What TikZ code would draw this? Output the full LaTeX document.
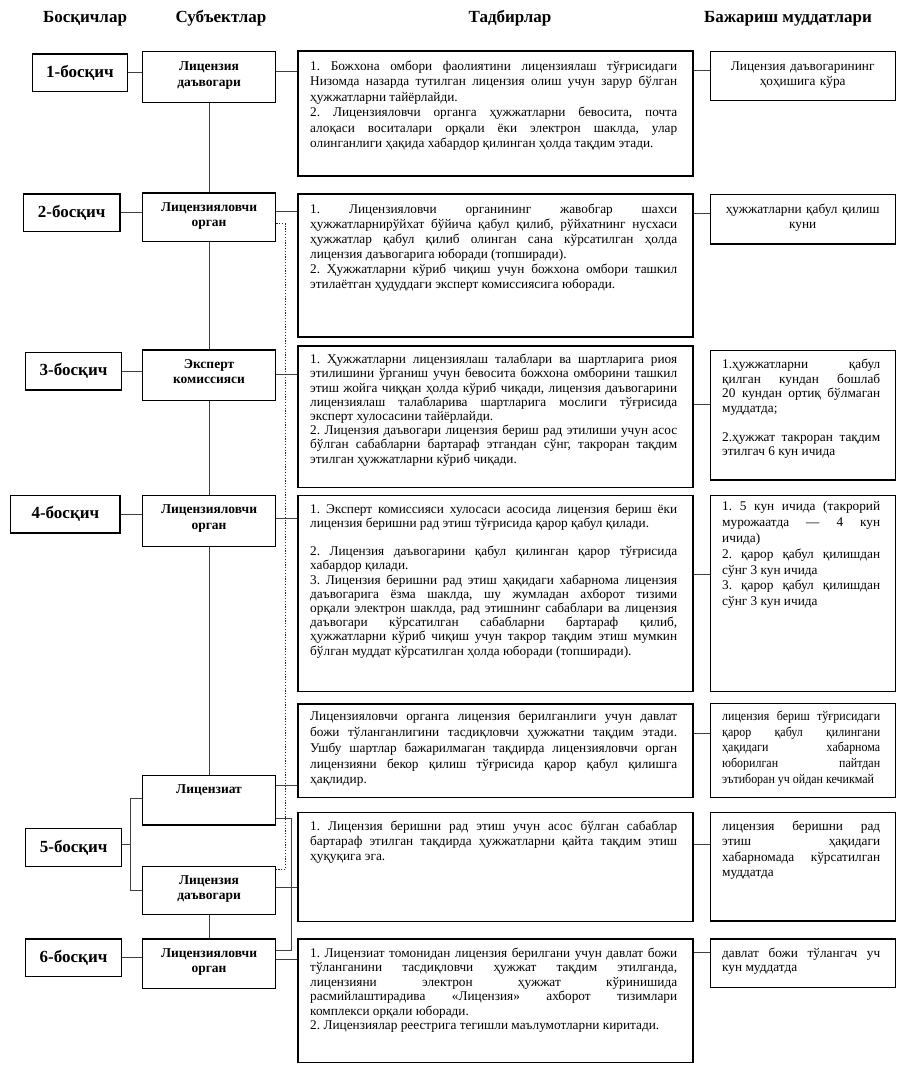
\documentclass[tikz,border=0pt]{standalone}
\usepackage{fontspec}
\setmainfont{Liberation Serif}
\newfontfamily\condfont[FakeStretch=0.9]{Liberation Serif}
\newcommand{\txtfont}[1]{\fontsize{13.3pt}{#1pt}\selectfont}
\newcommand{\condtxt}[1]{\condfont\fontsize{13.3pt}{#1pt}\selectfont}
\newcommand{\subjfont}{\fontsize{13.5pt}{15.5pt}\selectfont\bfseries}
\newcommand{\stagefont}{\fontsize{17pt}{20pt}\selectfont\bfseries}
\newcommand{\headfont}{\fontsize{17pt}{20pt}\selectfont\bfseries}
\tolerance=10000 \hbadness=10000 \hyphenpenalty=10000 \exhyphenpenalty=10000
\frenchspacing
\begin{document}
\begin{tikzpicture}[x=1pt,y=-1pt,
  stagebox/.style={draw=black,line width=1.4pt,inner sep=0pt,anchor=north west,font=\stagefont},
  subjbox/.style={draw=black,line width=1.4pt,inner sep=0pt,anchor=north west,minimum width=133.3pt},
  actbox/.style={draw=black,line width=1.6pt,inner sep=0pt,anchor=north west,minimum width=395pt},
  termbox/.style={draw=black,line width=1.4pt,inner sep=0pt,anchor=north west,minimum width=184.6pt},
  acttext/.style={inner sep=0pt,anchor=north west,text width=367pt,align=justify},
  termtext/.style={inner sep=0pt,anchor=north west,text width=158pt,align=justify},
  termctext/.style={inner sep=0pt,anchor=north west,text width=161pt,align=center},
  subjtext/.style={inner sep=0pt,anchor=north,text width=133pt,align=center,font=\subjfont},
  head/.style={inner sep=0pt,font=\headfont},
  conn/.style={draw=black!75,line width=0.8pt},
  dotconn/.style={draw=black!85,line width=0.9pt,dash pattern=on 1.2pt off 1.6pt},
]
\path[use as bounding box,fill=white] (0,0) rectangle (899,1068);

% headers
\node[head] (h1) at (85,18.3) {Босқичлар};
\node[head] (h2) at (221,18.3) {Субъектлар};
\node[head] (h3) at (510,18.3) {Тадбирлар};
\node[head] (h4) at (788,18.3) {Бажариш муддатлари};

% stage boxes
\node[stagebox,minimum width=95.5pt,minimum height=37.4pt] (s1) at (31.5,53.3) {1-босқич};
\node[stagebox,minimum width=96.6pt,minimum height=37.7pt] (s2) at (22.7,193.3) {2-босқич};
\node[stagebox,minimum width=95.7pt,minimum height=37.6pt] (s3) at (25,351.7) {3-босқич};
\node[stagebox,minimum width=109.3pt,minimum height=37.3pt] (s4) at (10,495) {4-босқич};
\node[stagebox,minimum width=96pt,minimum height=38pt] (s5) at (25,827.7) {5-босқич};
\node[stagebox,minimum width=95.7pt,minimum height=37.4pt] (s6) at (25,938.3) {6-босқич};

% subject boxes
\node[subjbox,minimum height=51pt] (u1) at (141.7,50.7) {};
\node[subjbox,minimum height=48.7pt] (u2) at (141.7,192.3) {};
\node[subjbox,minimum height=50.7pt] (u3) at (141.7,349.3) {};
\node[subjbox,minimum height=51pt] (u4) at (141.7,495) {};
\node[subjbox,minimum height=49.3pt] (u5a) at (141.7,775) {};
\node[subjbox,minimum height=48.3pt] (u5b) at (141.7,865.7) {};
\node[subjbox,minimum height=49.4pt] (u6) at (141.7,938.3) {};

\node[subjtext] (u1x) at ([yshift=-9.15pt]u1.north) {\strut Лицензия\\даъвогари};
\node[subjtext] (u2x) at ([yshift=-7.65pt]u2.north) {\strut Лицензияловчи\\орган};
\node[subjtext] (u3x) at ([yshift=-7.65pt]u3.north) {\strut Эксперт\\комиссияси};
\node[subjtext] (u4x) at ([yshift=-7.65pt]u4.north) {\strut Лицензияловчи\\орган};
\node[subjtext] (u5ax) at ([yshift=-7.65pt]u5a.north) {\strut Лицензиат};
\node[subjtext] (u5bx) at ([yshift=-7.65pt]u5b.north) {\strut Лицензия\\даъвогари};
\node[subjtext] (u6x) at ([yshift=-7.65pt]u6.north) {\strut Лицензияловчи\\орган};

% activity boxes
\node[actbox,minimum height=125pt] (t1) at (297,50) {};
\node[actbox,minimum height=143pt] (t2) at (297,193) {};
\node[actbox,minimum height=141.7pt] (t3) at (297,345) {};
\node[actbox,minimum height=196pt] (t4) at (297,494.5) {};
\node[actbox,minimum height=93.2pt] (t5a) at (297,703.3) {};
\node[actbox,minimum height=108.8pt] (t5b) at (297,811.7) {};
\node[actbox,minimum height=123.4pt] (t6) at (297,938.3) {};

\node[acttext,font=\txtfont{15.5}] (t1x) at ([xshift=13pt,yshift=-9.35pt]t1.north west) {\strut 1. Божхона омбори фаолиятини лицензиялаш тўғрисидаги\linebreak Низомда назарда тутилган лицензия олиш учун зарур бўлган\linebreak ҳужжатларни тайёрлайди.\par 2. Лицензияловчи органга ҳужжатларни бевосита, почта\linebreak алоқаси воситалари орқали ёки электрон шаклда, улар\linebreak олинганлиги ҳақида хабардор қилинган ҳолда тақдим этади.};
\node[acttext,font=\txtfont{15}] (t2x) at ([xshift=13pt,yshift=-9.3pt]t2.north west) {\strut 1. Лицензияловчи органининг жавобгар шахси\linebreak ҳужжатларнирўйхат бўйича қабул қилиб, рўйхатнинг нусхаси\linebreak ҳужжатлар қабул қилиб олинган сана кўрсатилган ҳолда\linebreak лицензия даъвогарига юборади (топширади).\par 2. Ҳужжатларни кўриб чиқиш учун божхона омбори ташкил\linebreak этилаётган ҳудуддаги эксперт комиссиясига юборади.};
\node[acttext,font=\txtfont{14.2}] (t3x) at ([xshift=13pt,yshift=-8.56pt]t3.north west) {\strut 1. Ҳужжатларни лицензиялаш талаблари ва шартларига риоя\linebreak этилишини ўрганиш учун бевосита божхона омборини ташкил\linebreak этиш жойга чиққан ҳолда кўриб чиқади, лицензия даъвогарини\linebreak лицензиялаш талабларива шартларига мослиги тўғрисида\linebreak эксперт хулосасини тайёрлайди.\par 2. Лицензия даъвогари лицензия бериш рад этилиши учун асос\linebreak бўлган сабабларни бартараф этгандан сўнг, такроран тақдим\linebreak этилган ҳужжатларни кўриб чиқади.};
\node[acttext,font=\txtfont{14.2}] (t4x) at ([xshift=13pt,yshift=-8.36pt]t4.north west) {\strut 1. Эксперт комиссияси хулосаси асосида лицензия бериш ёки\linebreak лицензия беришни рад этиш тўғрисида қарор қабул қилади.\par\vspace{14.2pt}2. Лицензия даъвогарини қабул қилинган қарор тўғрисида\linebreak хабардор қилади.\par 3. Лицензия беришни рад этиш ҳақидаги хабарнома лицензия\linebreak даъвогарига ёзма шаклда, шу жумладан ахборот тизими\linebreak орқали электрон шаклда, рад этишнинг сабаблари ва лицензия\linebreak даъвогари кўрсатилган сабабларни бартараф қилиб,\linebreak ҳужжатларни кўриб чиқиш учун такрор тақдим этиш мумкин\linebreak бўлган муддат кўрсатилган ҳолда юборади (топширади).};
\node[acttext,font=\txtfont{15.7}] (t5ax) at ([xshift=13pt,yshift=-6.5pt]t5a.north west) {\strut Лицензияловчи органга лицензия берилганлиги учун давлат\linebreak божи тўланганлигини тасдиқловчи ҳужжатни тақдим этади.\linebreak Ушбу шартлар бажарилмаган тақдирда лицензияловчи орган\linebreak лицензияни бекор қилиш тўғрисида қарор қабул қилишга\linebreak ҳақлидир.};
\node[acttext,font=\txtfont{15}] (t5bx) at ([xshift=13pt,yshift=-8pt]t5b.north west) {\strut 1. Лицензия беришни рад этиш учун асос бўлган сабаблар\linebreak бартараф этилган тақдирда ҳужжатларни қайта тақдим этиш\linebreak ҳуқуқига эга.};
\node[acttext,font=\txtfont{14.5}] (t6x) at ([xshift=13pt,yshift=-8.35pt]t6.north west) {\strut 1. Лицензиат томонидан лицензия берилгани учун давлат божи\linebreak тўланганини тасдиқловчи ҳужжат тақдим этилганда,\linebreak лицензияни электрон ҳужжат кўринишида\linebreak расмийлаштирадива «Лицензия» ахборот тизимлари\linebreak комплекси орқали юборади.\par 2. Лицензиялар реестрига тегишли маълумотларни киритади.};

% term boxes
\node[termbox,minimum height=49.3pt] (r1) at (710,50.7) {};
\node[termbox,minimum height=49.3pt] (r2) at (710,194) {};
\node[termbox,minimum height=129.3pt] (r3) at (710,350) {};
\node[termbox,minimum height=196pt] (r4) at (710,494.7) {};
\node[termbox,minimum height=93.7pt] (r5a) at (710,703) {};
\node[termbox,minimum height=108.5pt] (r5b) at (710,811.7) {};
\node[termbox,minimum height=48.4pt] (r6) at (710,938.3) {};

\node[termctext,font=\txtfont{15}] (r1x) at ([xshift=12pt,yshift=-9pt]r1.north west) {\strut Лицензия даъвогарининг\\ҳоҳишига кўра};
\node[termctext,font=\txtfont{15}] (r2x) at ([xshift=12pt,yshift=-8.3pt]r2.north west) {\strut ҳужжатларни қабул қилиш\\куни};
\node[termtext,font=\txtfont{14.5}] (r3x) at ([xshift=12pt,yshift=-8.35pt]r3.north west) {\strut 1.ҳужжатларни қабул\linebreak қилган кундан бошлаб\linebreak 20 кундан ортиқ бўлмаган\linebreak муддатда;\par\vspace{14.5pt}2.ҳужжат такроран тақдим\linebreak этилгач 6 кун ичида};
\node[termtext,font=\txtfont{15.8}] (r4x) at ([xshift=12pt,yshift=-5pt]r4.north west) {\strut 1. 5 кун ичида (такрорий\linebreak мурожаатда — 4 кун\linebreak ичида)\par 2. қарор қабул қилишдан\linebreak сўнг 3 кун ичида\par 3. қарор қабул қилишдан\linebreak сўнг 3 кун ичида};
\node[termtext,font=\condtxt{15.7}] (r5ax) at ([xshift=12pt,yshift=-6.2pt]r5a.north west) {\parfillskip=0pt\strut лицензия бериш тўғрисидаги\linebreak қарор қабул қилингани\linebreak ҳақидаги хабарнома\linebreak юборилган пайтдан\linebreak эътиборан уч ойдан кечикмай};
\node[termtext,font=\txtfont{15.3}] (r5bx) at ([xshift=12pt,yshift=-7.8pt]r5b.north west) {\strut лицензия беришни рад\linebreak этиш ҳақидаги\linebreak хабарномада кўрсатилган\linebreak муддатда};
\node[termtext,font=\txtfont{14}] (r6x) at ([xshift=12pt,yshift=-8.7pt]r6.north west) {\strut давлат божи тўлангач уч\linebreak кун муддатда};

% stage -> subject
\draw[conn] (s1.east) -- (s1.east -| u1.west);
\draw[conn] (s2.east) -- (s2.east -| u2.west);
\draw[conn] (s3.east) -- (s3.east -| u3.west);
\draw[conn] (s4.east) -- (s4.east -| u4.west);
\draw[conn] (s6.east) -- (s6.east -| u6.west);
\coordinate (br) at ([xshift=-11pt,yshift=2pt]u5a.west);
\draw[conn] ([yshift=2pt]u5a.west) -- (br) |- (u5b.west);
\draw[conn] ([yshift=2.7pt]s5.east) -- ([yshift=2.7pt]s5.east -| br);

% subject column
\draw[conn] (u1.south) -- (u2.north);
\draw[conn] (u2.south) -- (u3.north);
\draw[conn] (u3.south) -- (u4.north);
\draw[conn] (u4.south) -- (u5a.north);
\draw[conn] (u5b.south) -- (u6.north);

% subject -> activity
\draw[conn] ([yshift=5.5pt]u1.east) -- ([yshift=5.5pt]u1.east -| t1.west);
\draw[conn] ([yshift=6pt]u2.east) -- ([yshift=6pt]u2.east -| t2.west);
\draw[conn] ([yshift=1.4pt]u3.east) -- ([yshift=1.4pt]u3.east -| t3.west);
\draw[conn] ([yshift=2.8pt]u4.east) -- ([yshift=2.8pt]u4.east -| t4.west);
\draw[conn] ([yshift=14.7pt]u5a.east) -- ([yshift=14.7pt]u5a.east -| t5a.west);
\draw[conn] ([yshift=3pt]u5b.east) -- ([yshift=3pt]u5b.east -| t5b.west);
\draw[conn] ([yshift=4pt]u6.east) -- ([yshift=4pt]u6.east -| t6.west);

% activity -> term
\draw[conn] ([yshift=6pt]r1.west) -- ([yshift=6pt]r1.west -| t1.east);
\draw[conn] ([yshift=6pt]r2.west) -- ([yshift=6pt]r2.west -| t2.east);
\draw[conn] ([yshift=11.3pt]r3.west) -- ([yshift=11.3pt]r3.west -| t3.east);
\draw[conn] ([yshift=19.4pt]r4.west) -- ([yshift=19.4pt]r4.west -| t4.east);
\draw[conn] ([yshift=17.6pt]r5a.west) -- ([yshift=17.6pt]r5a.west -| t5a.east);
\draw[conn] ([yshift=22pt]r5b.west) -- ([yshift=22pt]r5b.west -| t5b.east);
\draw[conn] ([yshift=10.8pt]r6.west) -- ([yshift=10.8pt]r6.west -| t6.east);

% extra links
\draw[conn] ([yshift=-18pt]u5a.east) -- ++(15pt,0) |- ([yshift=13.7pt]u6.east);
\draw[dotconn] ([yshift=-6.3pt]u2.east) -- ++(9.3pt,0) |- ([yshift=21.6pt]u5b.east);
\end{tikzpicture}
\end{document}
